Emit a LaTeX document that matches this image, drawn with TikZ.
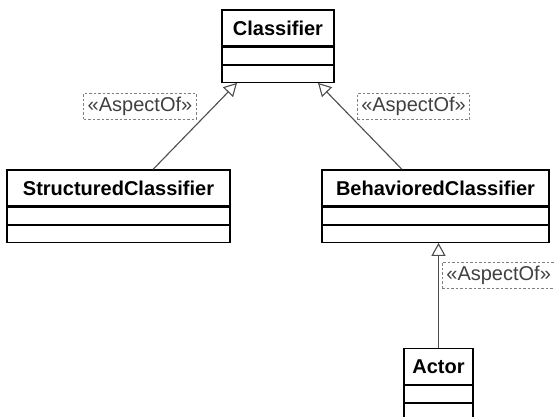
\documentclass[tikz,border=0pt]{standalone}
\usepackage{fontspec}
\setmainfont{Liberation Sans}
\usetikzlibrary{arrows.meta}
\usetikzlibrary{positioning}
\tikzset{
    classname/.style={
           rectangle,
           draw=black,
           line width=1.15pt,
           minimum height=36pt,
           inner sep=0pt,
           font=\fontsize{20}{24}\selectfont\bfseries,
           text centered,
           },
    compartment/.style={
           rectangle,
           draw=black,
           line width=1.15pt,
           minimum height=17pt,
           inner sep=0pt,
           },
    stereo/.style={
           rectangle,
           draw=gray,
           line width=0.8pt,
           dash pattern=on 2.5pt off 2pt,
           minimum height=26pt,
           inner xsep=4pt,
           inner ysep=0pt,
           text=black!75,
           font=\fontsize{20}{24}\selectfont,
           },
    aspect/.style={
           -{Triangle[open,length=13pt,width=14pt]},
           draw=black!70,
           line width=1.1pt,
           },
}

\begin{document}
\begin{tikzpicture}[x=1pt,y=-1pt]
 \useasboundingbox (0,0) rectangle (555,416);

 % classes
 \node[classname, minimum width=112pt] (CLS) at (278,28) {Classifier};
 \node[compartment, minimum width=112pt, below=0pt of CLS] (CLSa) {};
 \node[compartment, minimum width=112pt, below=0pt of CLSa] (CLSb) {};

 \node[classname, minimum width=223pt] (SC) at (118.5,188) {StructuredClassifier};
 \node[compartment, minimum width=223pt, below=0pt of SC] (SCa) {};
 \node[compartment, minimum width=223pt, below=0pt of SCa] (SCb) {};

 \node[classname, minimum width=227pt] (BC) at (435.5,188) {BehavioredClassifier};
 \node[compartment, minimum width=227pt, below=0pt of BC] (BCa) {};
 \node[compartment, minimum width=227pt, below=0pt of BCa] (BCb) {};

 \node[classname, minimum width=69pt] (ACT) at (438.5,366.5) {Actor};
 \node[compartment, minimum width=69pt, below=0pt of ACT] (ACTa) {};
 \node[compartment, minimum width=69pt, below=0pt of ACTa] (ACTb) {};

 % aspects
 \draw[aspect] ([xshift=34.5pt]SC.north) -- ([xshift=-41pt]CLSb.south);
 \draw[aspect] ([xshift=-33.5pt]BC.north) -- ([xshift=40pt]CLSb.south);
 \draw[aspect] (ACT.north) -- (ACT.north |- BCb.south);

 \node[stereo] (ST1) at (140,106) {«AspectOf»};
 \node[stereo] (ST2) at (413.5,106.5) {«AspectOf»};
 \node[stereo, anchor=west] (ST3) at (442,275) {«AspectOf»};
\end{tikzpicture}
\end{document}
